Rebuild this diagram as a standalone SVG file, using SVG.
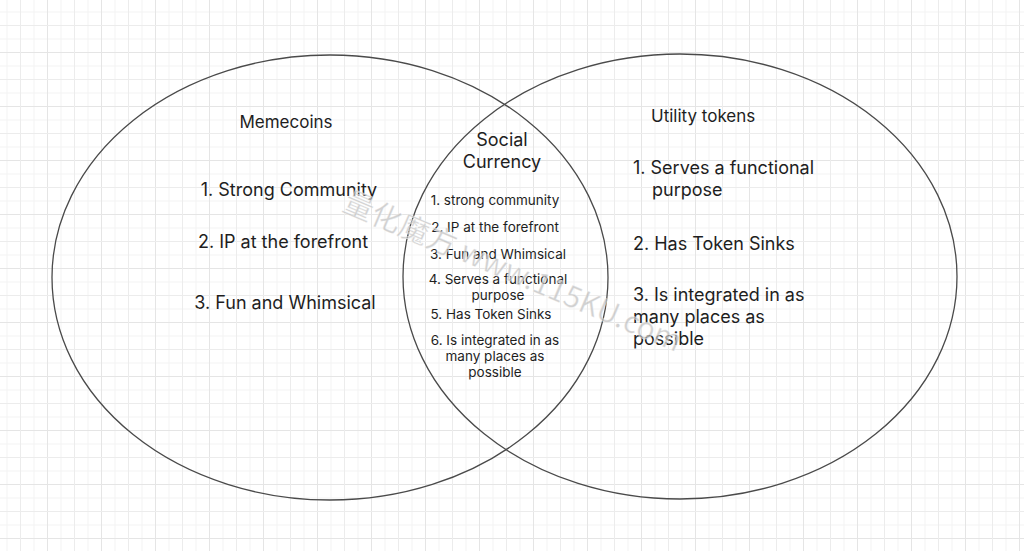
<svg xmlns="http://www.w3.org/2000/svg" width="1024" height="551" viewBox="0 0 1024 551">
  <defs>
    <pattern id="minor" patternUnits="userSpaceOnUse" x="-7" y="-2" width="13.5" height="13.5">
      <path d="M0 0.5 H13.5 M0.5 0 V13.5" stroke="#f3f3f3" stroke-width="1" fill="none"/>
    </pattern>
    <pattern id="major" patternUnits="userSpaceOnUse" x="-7" y="-2" width="54" height="54">
      <path d="M0 0.5 H54 M0.5 0 V54" stroke="#e5e5e5" stroke-width="1" fill="none"/>
      <path d="M0 27.5 H54 M27.5 0 V54" stroke="#ececec" stroke-width="1" fill="none"/>
    </pattern>
  </defs>
  <style>
    .set { fill: none; stroke: #4a4a4a; stroke-width: 1.3; }
    .t { font-family: Inter, "Liberation Sans", sans-serif; fill: #1e1e1e; }
    .big { font-size: 18px; }
    .head { font-size: 17px; }
    .small { font-size: 13.5px; }
    .wm { font-family: "Noto Sans CJK SC", "Liberation Sans", sans-serif; font-size: 30px; fill: #bdbdbd; fill-opacity: 0.7; stroke: #ffffff; stroke-opacity: 0.5; stroke-width: 0.8; }
  </style>
  <rect width="1024" height="551" fill="#ffffff"/>
  <rect width="1024" height="551" fill="url(#minor)"/>
  <rect width="1024" height="551" fill="url(#major)"/>

  <g id="memecoins">
    <ellipse class="set" cx="330" cy="277.5" rx="278" ry="222.5"/>
    <text class="t head" x="286" y="128" text-anchor="middle">Memecoins</text>
    <text class="t big" x="289" y="196" text-anchor="middle">1. Strong Community</text>
    <text class="t big" x="283" y="248" text-anchor="middle">2. IP at the forefront</text>
    <text class="t big" x="285" y="309" text-anchor="middle">3. Fun and Whimsical</text>
  </g>

  <g id="utility-tokens">
    <ellipse class="set" cx="680" cy="276.5" rx="277" ry="222.5"/>
    <text class="t head" x="651" y="122">Utility tokens</text>
    <text class="t big" x="633" y="174">1. Serves a functional</text>
    <text class="t big" x="652" y="196">purpose</text>
    <text class="t big" x="633" y="250">2. Has Token Sinks</text>
    <text class="t big" x="633" y="301">3. Is integrated in as</text>
    <text class="t big" x="633" y="323">many places as</text>
    <text class="t big" x="633" y="345">possible</text>
  </g>

  <g id="social-currency">
    <text class="t big" x="502" y="146" text-anchor="middle">Social</text>
    <text class="t big" x="502" y="168" text-anchor="middle">Currency</text>
    <text class="t small" x="495" y="205" text-anchor="middle">1. strong community</text>
    <text class="t small" x="495" y="232" text-anchor="middle">2. IP at the forefront</text>
    <text class="t small" x="498" y="259" text-anchor="middle">3. Fun and Whimsical</text>
    <text class="t small" x="498" y="284" text-anchor="middle">4. Serves a functional</text>
    <text class="t small" x="498" y="300" text-anchor="middle">purpose</text>
    <text class="t small" x="491" y="319" text-anchor="middle">5. Has Token Sinks</text>
    <text class="t small" x="495" y="345" text-anchor="middle">6. Is integrated in as</text>
    <text class="t small" x="495" y="361" text-anchor="middle">many places as</text>
    <text class="t small" x="495" y="377" text-anchor="middle">possible</text>
  </g>

  <g id="connectors"></g>

  <g id="watermark">
    <text class="wm" x="341" y="210" transform="rotate(23 341 210)">量化魔方 www.115KU.com</text>
  </g>
</svg>
